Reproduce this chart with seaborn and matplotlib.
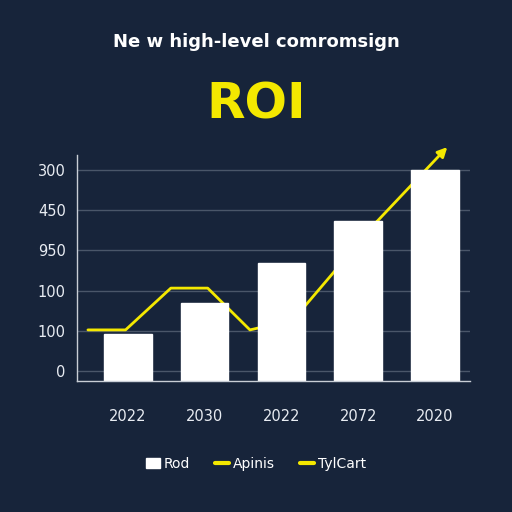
import matplotlib
matplotlib.use("Agg")
import matplotlib.pyplot as plt
import seaborn as sns
from matplotlib.patches import Patch
from matplotlib.lines import Line2D

# values (axis in gridline units)
bar_slots = [0, 1, 2, 3, 4]
bar_values = [0.92, 1.69, 2.69, 3.73, 5.0]
bar_base = -0.25  # bars start at the spine, below the "0" gridline
year_labels = ["2022", "2030", "2022", "2072", "2020"]
ytick_pos = [0, 1, 2, 3, 4, 5]
ytick_labels = ["0", "100", "100", "950", "450", "300"]
line_x = [-0.52, -0.03, 0.56, 1.04, 1.59, 1.75, 2.3, 3.24]
line_y = [1.02, 1.02, 2.06, 2.06, 1.02, 1.09, 1.6, 3.71]
arrow_tip = (4.16, 5.57)
legend_labels = ["Rod", "Apinis", "TylCart"]

BG = "#17243a"
YELLOW = "#f4e800"

sns.set_theme(style="dark")
plt.rcParams["font.family"] = ["DejaVu Sans"]

fig = plt.figure(figsize=(5.12, 5.12), dpi=100, facecolor=BG)
ax = fig.add_axes([0.150, 0.256, 0.768, 0.441], facecolor=BG)

heights = [v - bar_base for v in bar_values]
sns.barplot(x=bar_slots, y=heights, color="white", width=0.62,
            saturation=1, ax=ax, zorder=2, bottom=bar_base)
sns.lineplot(x=line_x, y=line_y, color=YELLOW, linewidth=2.0, ax=ax,
             zorder=1.5, sort=False)
ax.annotate("", xy=arrow_tip, xytext=(line_x[-1], line_y[-1]),
            arrowprops=dict(arrowstyle="-|>", color=YELLOW, lw=2.0,
                            mutation_scale=14, shrinkA=0, shrinkB=0),
            annotation_clip=False, zorder=1.5)

ax.set_xlim(-0.665, 4.456)
ax.set_ylim(-0.25, 5.37)
ax.set_yticks(ytick_pos)
ax.set_yticklabels(ytick_labels)
ax.set_xticks(bar_slots)
ax.set_xticklabels(year_labels)
ax.tick_params(axis="both", colors="#e8ecf2", labelsize=10.5, length=0)
ax.tick_params(axis="x", pad=20)
ax.tick_params(axis="y", pad=8)
ax.set_axisbelow(True)
ax.yaxis.grid(True, color="#4a5669", linewidth=1.0)
ax.xaxis.grid(False)
for side in ["top", "right"]:
    ax.spines[side].set_visible(False)
for side in ["left", "bottom"]:
    ax.spines[side].set_visible(True)
    ax.spines[side].set_color("#c9ced6")
    ax.spines[side].set_linewidth(1.0)
ax.set_xlabel("")
ax.set_ylabel("")

fig.text(0.5, 0.918, "Ne w high-level comromsign", color="white",
         fontsize=13, fontweight="semibold", ha="center", va="center")
fig.text(0.5, 0.795, "ROI", color=YELLOW, fontsize=36,
         fontweight="bold", ha="center", va="center")

handles = [Patch(facecolor="white", edgecolor="white"),
           Line2D([], [], color=YELLOW, linewidth=3),
           Line2D([], [], color=YELLOW, linewidth=3)]
fig.legend(handles, legend_labels, loc="center", bbox_to_anchor=(0.5, 0.094),
           ncol=3, frameon=False, fontsize=10, labelcolor="white",
           handlelength=1.0, handletextpad=0.3, columnspacing=1.8)

fig.savefig("out.png", dpi=100, facecolor=BG)
